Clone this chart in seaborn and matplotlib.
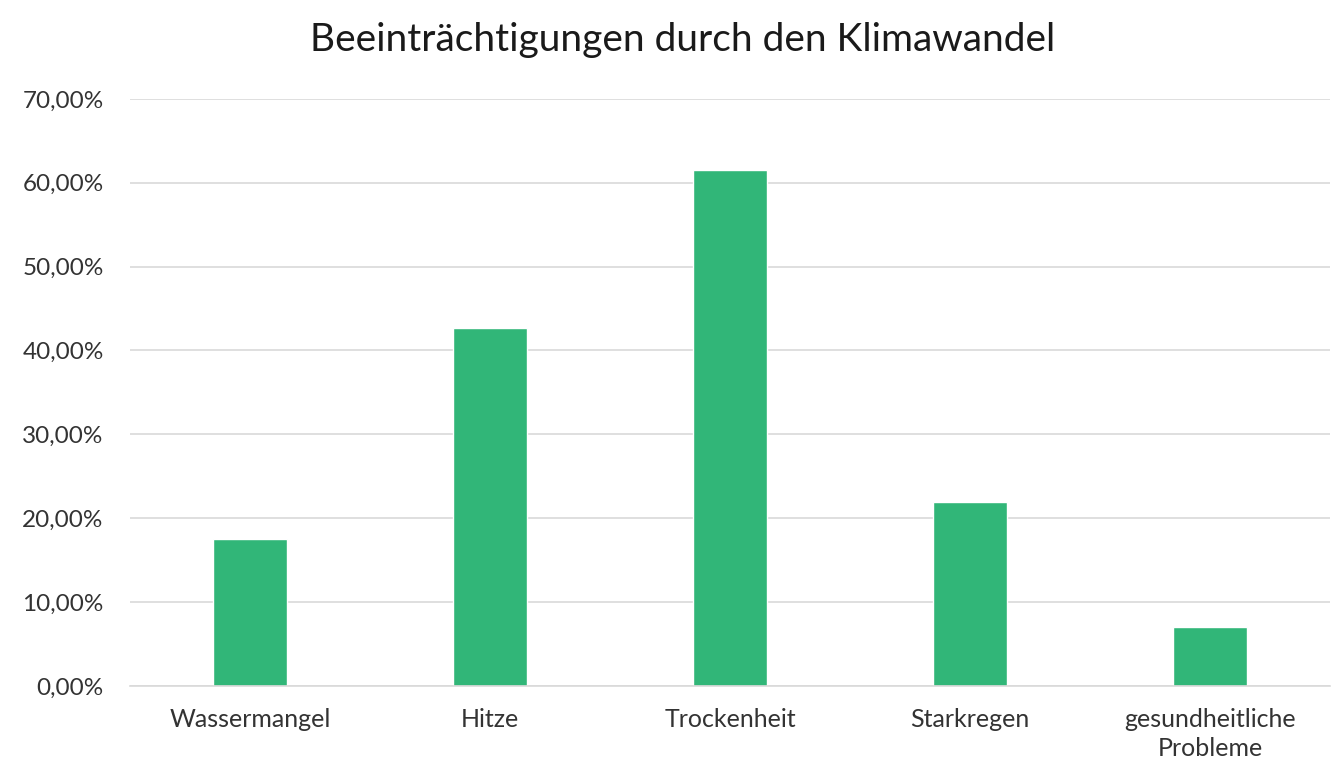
import matplotlib
matplotlib.use("Agg")
import matplotlib.pyplot as plt
import seaborn as sns
import pandas as pd
from matplotlib.ticker import FuncFormatter, MultipleLocator

# Werte
kategorien = ["Wassermangel", "Hitze", "Trockenheit", "Starkregen", "gesundheitliche\nProbleme"]
anteile = [0.175, 0.427, 0.615, 0.219, 0.070]

df = pd.DataFrame({"kategorie": kategorien, "anteil": anteile})

sns.set_theme(style="white")
plt.rcParams["font.family"] = ["Lato", "DejaVu Sans"]

fig = plt.figure(figsize=(13.41, 7.67), dpi=100)
ax = fig.add_axes([0.097, 0.1056, 0.895, 0.7655])

sns.barplot(data=df, x="kategorie", y="anteil", color="#31B678", saturation=1,
            width=0.31, ax=ax)

ax.set_ylim(0, 0.7)
ax.set_xlim(-0.5, 4.5)
ax.yaxis.set_major_locator(MultipleLocator(0.1))
ax.yaxis.set_major_formatter(FuncFormatter(lambda v, p: f"{v*100:.2f}%".replace(".", ",")))
ax.grid(axis="y", color="#D9D9D9", linewidth=1.2)
ax.set_axisbelow(True)
for s in ["top", "right", "left"]:
    ax.spines[s].set_visible(False)
ax.spines["bottom"].set_color("#D9D9D9")
ax.spines["bottom"].set_linewidth(1.2)

ax.tick_params(axis="y", length=0, pad=19, labelsize=17.5, labelcolor="#333333")
ax.tick_params(axis="x", length=0, pad=16, labelsize=18, labelcolor="#333333")
for lbl in ax.get_xticklabels():
    lbl.set_linespacing(1.3)
ax.set_xlabel("")
ax.set_ylabel("")

fig.text(0.509, 0.948, "Beeinträchtigungen durch den Klimawandel", ha="center", va="center",
         fontsize=28, color="#1a1a1a")

fig.savefig("out.png", dpi=100, facecolor="white")
